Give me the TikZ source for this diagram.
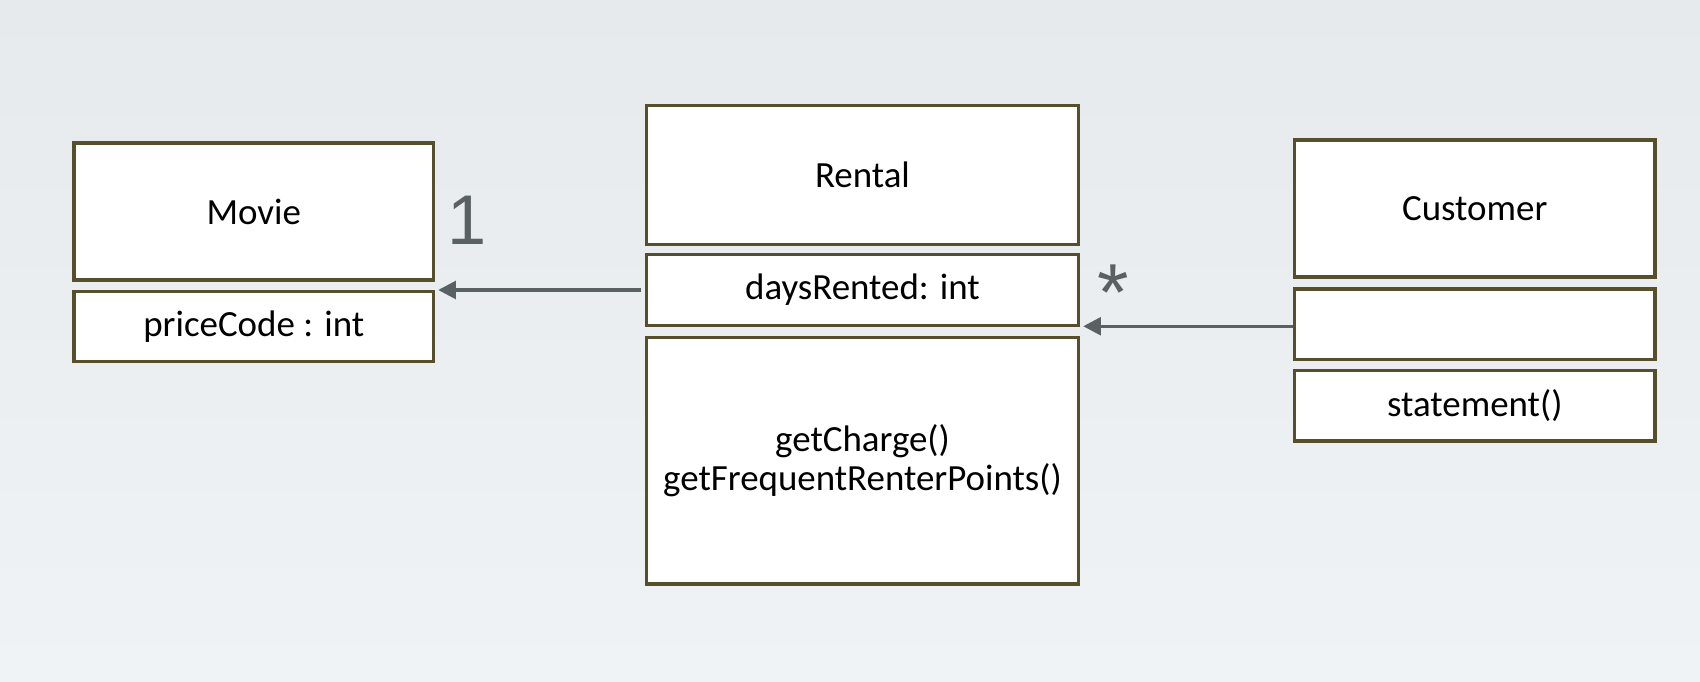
\documentclass[tikz,border=0pt]{standalone}
\usepackage{fontspec}
\setmainfont{Carlito}
\newfontfamily\numfont{Liberation Sans}
\usetikzlibrary{arrows.meta}
\definecolor{border}{HTML}{574F2B}
\definecolor{arrowgray}{HTML}{5A6163}
\definecolor{bgtop}{HTML}{E6EAED}
\definecolor{bgbot}{HTML}{EFF3F6}
\tikzset{
  cls/.style={draw=border, fill=white, line width=1pt, inner sep=0pt,
    align=center, font=\fontsize{10.5}{11.2}\selectfont},
  assoc/.style={draw=arrowgray, line width=0.95pt,
    -{Triangle[length=5pt,width=5pt]}, shorten >=0.8pt},
  mult/.style={text=arrowgray, inner sep=0pt, font=\numfont\fontsize{20}{24}\selectfont}
}
\begin{document}
\begin{tikzpicture}[x=0.01cm,y=-0.01cm]
\shade[top color=bgtop, bottom color=bgbot] (0,0) rectangle (1700,682);
\useasboundingbox (0,0) rectangle (1700,682);
% Movie
\node[cls, minimum width=3.595cm, minimum height=1.37cm] (movieH) at (253.75,211.5) {Movie};
\node[cls, minimum width=3.595cm, minimum height=0.70cm] (movieA) at (253.75,326.5) {priceCode : int};
% Rental
\node[cls, minimum width=4.32cm, minimum height=1.39cm] (rentalH) at (862.5,175) {Rental};
\node[cls, minimum width=4.32cm, minimum height=0.71cm] (rentalA) at (862.5,290) {daysRented: int};
\node[cls, minimum width=4.32cm, minimum height=2.465cm] (rentalM) at (862.5,460.75) {getCharge()\\getFrequentRenterPoints()};
% Customer
\node[cls, minimum width=3.605cm, minimum height=1.37cm] (custH) at (1474.75,208.5) {Customer};
\node[cls, minimum width=3.605cm, minimum height=0.705cm] (custA) at (1474.75,324.25) {};
\node[cls, minimum width=3.605cm, minimum height=0.705cm] (custM) at (1474.75,405.75) {statement()};
% associations
\coordinate (a1s) at ([xshift=-0.04cm]rentalA.west);
\draw[assoc] (a1s) -- (a1s -| movieA.east);
\coordinate (a2s) at ([yshift=-0.02cm]custA.west);
\draw[assoc] (a2s) -- (a2s -| rentalA.east);
% multiplicities
\node[mult, anchor=north] (one) at (467,195) {1};
\node[mult, anchor=north, font=\numfont\fontsize{23}{26}\selectfont] (many) at (1113,264) {*};
\end{tikzpicture}
\end{document}
